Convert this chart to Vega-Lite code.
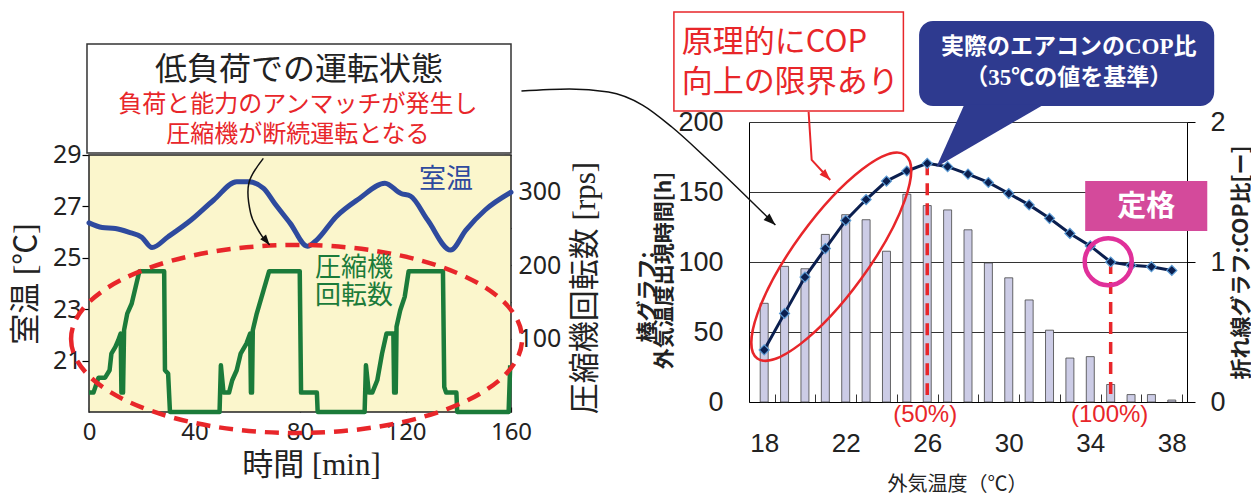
{
  "$schema": "https://vega.github.io/schema/vega-lite/v6.json",
  "background": "#ffffff",
  "padding": {"left": 10, "top": 11, "right": 0, "bottom": 0},
  "autosize": {"type": "pad"},
  "bounds": "flush",
  "spacing": 238,
  "config": {
    "view": {"stroke": null},
    "axis": {"labelFlush": false, "labelOverlap": false, "domainColor": "#000", "tickColor": "#000", "labelColor": "#222", "titleColor": "#222", "titleFontWeight": "normal", "grid": false}
  },
  "datasets": {
    "room": [
      {"t": 0, "temp": 26.36}, {"t": 5, "temp": 26.18}, {"t": 10, "temp": 26.14}, {"t": 15, "temp": 26.0},
      {"t": 20, "temp": 25.8}, {"t": 23.9, "temp": 25.4}, {"t": 30, "temp": 25.82}, {"t": 38.7, "temp": 26.47},
      {"t": 47.3, "temp": 27.25}, {"t": 56, "temp": 27.96}, {"t": 60.4, "temp": 27.96}, {"t": 66.2, "temp": 27.7},
      {"t": 70.5, "temp": 27.1}, {"t": 76.3, "temp": 26.34}, {"t": 82.8, "temp": 25.45}, {"t": 86.4, "temp": 25.7},
      {"t": 93.7, "temp": 26.6}, {"t": 102.4, "temp": 27.3}, {"t": 112.2, "temp": 27.9}, {"t": 118.3, "temp": 27.5},
      {"t": 121.9, "temp": 27.4}, {"t": 128.4, "temp": 26.47}, {"t": 137.1, "temp": 25.3}, {"t": 142.9, "temp": 26.08},
      {"t": 150.2, "temp": 26.86}, {"t": 160, "temp": 27.55}
    ],
    "comp": [
      {"t": 0, "rps": 26.4}, {"t": 1.7, "rps": 26.4}, {"t": 3.6, "rps": 46.8}, {"t": 6.1, "rps": 46.8},
      {"t": 7.8, "rps": 56.8}, {"t": 8.5, "rps": 79.5}, {"t": 10.0, "rps": 88.6}, {"t": 11.1, "rps": 97.7},
      {"t": 12.0, "rps": 106.8}, {"t": 12.3, "rps": 26.4}, {"t": 12.9, "rps": 26.4}, {"t": 13.3, "rps": 111.4},
      {"t": 14.5, "rps": 134}, {"t": 16.2, "rps": 147.7}, {"t": 17.7, "rps": 170.5}, {"t": 19.1, "rps": 191.8},
      {"t": 28.5, "rps": 191.8}, {"t": 28.8, "rps": 56.8}, {"t": 30.0, "rps": 52.3}, {"t": 30.7, "rps": 0},
      {"t": 49.5, "rps": 0}, {"t": 50.0, "rps": 63.6}, {"t": 51.0, "rps": 26.4}, {"t": 53.1, "rps": 26.4},
      {"t": 54.3, "rps": 43.2}, {"t": 56.0, "rps": 56.8}, {"t": 57.5, "rps": 79.5}, {"t": 59.7, "rps": 93.2},
      {"t": 61.1, "rps": 106.8}, {"t": 61.4, "rps": 26.4}, {"t": 61.8, "rps": 26.4}, {"t": 62.1, "rps": 111.4},
      {"t": 63.6, "rps": 134}, {"t": 66.2, "rps": 166}, {"t": 68.3, "rps": 191.8}, {"t": 79.9, "rps": 191.8},
      {"t": 80.4, "rps": 26.4}, {"t": 86.4, "rps": 26.4}, {"t": 86.7, "rps": 0}, {"t": 104.5, "rps": 0},
      {"t": 105.0, "rps": 63.6}, {"t": 106.1, "rps": 26.4}, {"t": 107.4, "rps": 26.4}, {"t": 109.3, "rps": 43.2},
      {"t": 111.1, "rps": 79.5}, {"t": 112.8, "rps": 106.8}, {"t": 115.4, "rps": 106.8}, {"t": 115.7, "rps": 26.4},
      {"t": 116.3, "rps": 26.4}, {"t": 116.6, "rps": 116}, {"t": 118.0, "rps": 138.6}, {"t": 119.7, "rps": 156.8},
      {"t": 121.2, "rps": 191.8}, {"t": 134.2, "rps": 191.8}, {"t": 134.7, "rps": 34}, {"t": 135.4, "rps": 26.4},
      {"t": 139.3, "rps": 26.4}, {"t": 139.6, "rps": 0}, {"t": 159.1, "rps": 0}, {"t": 159.7, "rps": 63.6}
    ],
    "outdoor": [
      {"x": 18, "h": 70.5, "cop": 0.372}, {"x": 19, "h": 96.9, "cop": 0.633}, {"x": 20, "h": 95.2, "cop": 0.892},
      {"x": 21, "h": 119.7, "cop": 1.096}, {"x": 22, "h": 133.8, "cop": 1.297}, {"x": 23, "h": 130.2, "cop": 1.446},
      {"x": 24, "h": 107.7, "cop": 1.578}, {"x": 25, "h": 148.4, "cop": 1.65}, {"x": 26, "h": 140.3, "cop": 1.705},
      {"x": 27, "h": 137.2, "cop": 1.681}, {"x": 28, "h": 123.0, "cop": 1.628}, {"x": 29, "h": 99.3, "cop": 1.568},
      {"x": 30, "h": 88.7, "cop": 1.489}, {"x": 31, "h": 72.9, "cop": 1.408}, {"x": 32, "h": 51.3, "cop": 1.312},
      {"x": 33, "h": 31.4, "cop": 1.204}, {"x": 34, "h": 32.4, "cop": 1.115}, {"x": 35, "h": 12.5, "cop": 1.0},
      {"x": 36, "h": 5.3, "cop": 0.976}, {"x": 37, "h": 5.3, "cop": 0.966}, {"x": 38, "h": 1.4, "cop": 0.94}
    ],
    "arrowL": [
      {"i": 0, "t": 66.1, "temp": 28.87}, {"i": 1, "t": 60.6, "temp": 27.9}, {"i": 2, "t": 61.3, "temp": 26.73}, {"i": 3, "t": 64.9, "temp": 25.95}, {"i": 4, "t": 68.5, "temp": 25.5}
    ],
    "arrowR": [
      {"x": 6.09, "v": 2.221}, {"x": 8.44, "v": 2.236}, {"x": 10.36, "v": 2.214}, {"x": 12.03, "v": 2.121},
      {"x": 13.47, "v": 1.964}, {"x": 15.15, "v": 1.743}, {"x": 18.55, "v": 1.264}
    ],
    "conn": [
      {"x": 20.18, "v": 2.071}, {"x": 20.33, "v": 1.729}, {"x": 21.24, "v": 1.586}
    ]
  },
  "hconcat": [
    {
      "width": 422,
      "height": 290,
      "resolve": {"scale": {"y": "independent"}},
      "layer": [
        {
          "data": {"values": [{}]},
          "mark": {"type": "rect", "fill": "#FBF6CC", "stroke": "#222", "strokeWidth": 1.5},
          "encoding": {
            "x": {"datum": 0, "type": "quantitative", "scale": {"domain": [0, 160], "nice": false, "zero": false},
              "axis": {"orient": "bottom", "values": [0, 40, 80, 120, 160], "domain": false, "tickSize": -5, "tickWidth": 1.2, "labelBaseline": "middle", "labelPadding": 25, "labelFont": "Noto Sans", "labelFontSize": 24, "title": "時間 [min]", "titleFont": "Liberation Serif, Noto Sans CJK JP", "titleFontSize": 31, "titleX": 222, "titleY": 53, "titleAlign": "center", "titleBaseline": "middle"}},
            "x2": {"datum": 160},
            "y": {"datum": 19, "type": "quantitative", "scale": {"domain": [19, 30.284], "nice": false, "zero": false},
              "axis": {"orient": "left", "values": [21, 23, 25, 27, 29], "domain": false, "tickSize": 7, "tickWidth": 1.2, "labelPadding": 1, "labelFont": "Noto Sans", "labelFontSize": 25, "title": "室温 [℃]", "titleFont": "Liberation Serif, Noto Sans CJK JP", "titleFontSize": 31, "titleAngle": 270, "titleX": -63, "titleY": 161.5, "titleAlign": "center", "titleBaseline": "middle"}},
            "y2": {"datum": 29}
          }
        },
        {
          "data": {"name": "comp"},
          "mark": {"type": "line", "color": "#1B7B3A", "strokeWidth": 4.5, "strokeJoin": "round"},
          "encoding": {
            "x": {"field": "t", "type": "quantitative"},
            "y": {"field": "rps", "type": "quantitative", "scale": {"domain": [0, 394.9], "nice": false, "zero": false},
              "axis": {"orient": "right", "values": [50, 100, 150, 200, 250, 300, 350], "labelExpr": "datum.value % 100 == 0 ? datum.label : ''", "domain": false, "tickSize": -7, "tickWidth": 1.2, "labelPadding": 14, "labelFont": "Noto Sans", "labelFontSize": 25, "title": "圧縮機回転数 [rps]", "titleFont": "Liberation Serif, Noto Sans CJK JP", "titleFontSize": 31, "titleAngle": 270, "titleX": 74, "titleY": 165.5, "titleAlign": "center", "titleBaseline": "middle"}}
          }
        },
        {
          "data": {"name": "room"},
          "mark": {"type": "line", "color": "#2E4A9E", "strokeWidth": 5, "interpolate": "monotone", "strokeCap": "round", "strokeJoin": "round"},
          "encoding": {
            "x": {"field": "t", "type": "quantitative"},
            "y": {"field": "temp", "type": "quantitative", "scale": {"domain": [19, 30.284], "nice": false, "zero": false}, "axis": null}
          }
        },
        {
          "data": {"values": [{}]},
          "mark": {"type": "point", "shape": "M-1,0A1,0.417,0,1,0,1,0A1,0.417,0,1,0,-1,0Z", "size": 203401, "filled": false, "color": "#E8262A", "strokeWidth": 4.5, "strokeDash": [14, 9], "opacity": 1},
          "encoding": {"x": {"datum": 78.7}, "y": {"datum": 21.84, "scale": {"domain": [19, 30.284], "nice": false, "zero": false}, "axis": null}}
        },
        {
          "data": {"values": [{}]},
          "mark": {"type": "text", "text": "室温", "font": "Noto Sans CJK JP", "fontSize": 27, "color": "#2E4A9E", "baseline": "middle", "align": "center"},
          "encoding": {"x": {"datum": 135.4}, "y": {"datum": 28.03, "scale": {"domain": [19, 30.284], "nice": false, "zero": false}, "axis": null}}
        },
        {
          "data": {"values": [{}]},
          "mark": {"type": "text", "text": ["圧縮機", "回転数"], "lineHeight": 28, "font": "Noto Sans CJK JP", "fontSize": 26, "color": "#1B7B3A", "baseline": "middle", "align": "center"},
          "encoding": {"x": {"datum": 100.5}, "y": {"datum": 24.6, "scale": {"domain": [19, 30.284], "nice": false, "zero": false}, "axis": null}}
        },
        {
          "data": {"values": [{}]},
          "mark": {"type": "rect", "fill": "#ffffff", "stroke": "#333", "strokeWidth": 1.5},
          "encoding": {"x": {"datum": -0.76}, "x2": {"datum": 160}, "y": {"datum": 33.32, "scale": {"domain": [19, 30.284], "nice": false, "zero": false}, "axis": null}, "y2": {"datum": 29.08}}
        },
        {
          "data": {"values": [{}]},
          "mark": {"type": "text", "text": "低負荷での運転状態", "font": "Noto Sans CJK JP", "fontSize": 32, "color": "#222", "baseline": "middle", "align": "center"},
          "encoding": {"x": {"datum": 79.6}, "y": {"datum": 32.31, "scale": {"domain": [19, 30.284], "nice": false, "zero": false}, "axis": null}}
        },
        {
          "data": {"values": [{}]},
          "mark": {"type": "text", "text": ["負荷と能力のアンマッチが発生し", "圧縮機が断続運転となる"], "lineHeight": 30, "font": "Noto Sans CJK JP", "fontSize": 24, "color": "#E8262A", "baseline": "middle", "align": "center"},
          "encoding": {"x": {"datum": 79.2}, "y": {"datum": 30.95, "scale": {"domain": [19, 30.284], "nice": false, "zero": false}, "axis": null}}
        },
        {
          "data": {"name": "arrowL"},
          "mark": {"type": "line", "color": "#111", "strokeWidth": 1.5, "interpolate": "cardinal"},
          "encoding": {"x": {"field": "t", "type": "quantitative"}, "y": {"field": "temp", "type": "quantitative", "scale": {"domain": [19, 30.284], "nice": false, "zero": false}, "axis": null}, "order": {"field": "i", "type": "quantitative"}}
        },
        {
          "data": {"values": [{}]},
          "mark": {"type": "point", "shape": "M0,0L-0.5,-1.4L0.5,-1.4Z", "size": 220, "angle": 321, "filled": true, "color": "#111", "opacity": 1},
          "encoding": {"x": {"datum": 68.5}, "y": {"datum": 25.5, "scale": {"domain": [19, 30.284], "nice": false, "zero": false}, "axis": null}}
        }
      ]
    },
    {
      "width": 438,
      "height": 280,
      "resolve": {"scale": {"y": "independent"}},
      "layer": [
        {
          "data": {"name": "outdoor"},
          "mark": {"type": "bar", "size": 8, "fill": "#CCCCE6", "stroke": "#444", "strokeWidth": 0.8},
          "encoding": {
            "x": {"field": "x", "type": "quantitative", "scale": {"domain": [17.5, 38.5], "nice": false, "zero": false},
              "axis": {"orient": "bottom", "values": [18, 19, 20, 21, 22, 23, 24, 25, 26, 27, 28, 29, 30, 31, 32, 33, 34, 35, 36, 37, 38], "tickOffset": 10.43, "labelOffset": -10.43, "labelExpr": "datum.value % 4 == 2 ? datum.label : ''", "tickSize": -8, "tickColor": "#333", "labelPadding": 49, "labelBaseline": "middle", "labelFont": "Liberation Sans", "labelFontSize": 26, "title": "外気温度（℃）", "titleFont": "Noto Sans CJK JP", "titleFontSize": 20, "titleX": 208, "titleY": 82, "titleAlign": "center", "titleBaseline": "middle"}},
            "y": {"field": "h", "type": "quantitative", "scale": {"domain": [0, 200], "nice": false, "zero": true},
              "axis": {"orient": "left", "values": [0, 50, 100, 150, 200], "grid": true, "gridColor": "#333", "gridWidth": 1, "ticks": false, "labelPadding": 26, "labelFont": "Liberation Sans", "labelFontSize": 27, "title": "外気温度出現時間[h]", "titleFont": "Noto Sans CJK JP", "titleFontWeight": "bold", "titleFontSize": 21, "titleAngle": 270, "titleX": -85, "titleY": 148, "titleAlign": "center", "titleBaseline": "middle"}}
          }
        },
        {
          "data": {"values": [{}]},
          "mark": {"type": "rule", "color": "#E8262A", "strokeWidth": 3.5, "strokeDash": [12, 8]},
          "encoding": {"x": {"datum": 26}, "y": {"datum": 170.5, "scale": {"domain": [0, 200], "nice": false, "zero": false}, "axis": null}, "y2": {"datum": 5}}
        },
        {
          "data": {"values": [{}]},
          "mark": {"type": "rule", "color": "#E8262A", "strokeWidth": 3.5, "strokeDash": [12, 8]},
          "encoding": {"x": {"datum": 35}, "y": {"datum": 100, "scale": {"domain": [0, 200], "nice": false, "zero": false}, "axis": null}, "y2": {"datum": 5}}
        },
        {
          "data": {"values": [{}]},
          "mark": {"type": "text", "text": "(50%)", "font": "Liberation Sans", "fontSize": 24, "color": "#E8262A", "baseline": "middle", "align": "center"},
          "encoding": {"x": {"datum": 25.9}, "y": {"datum": -9.3, "scale": {"domain": [0, 200], "nice": false, "zero": false}, "axis": null}}
        },
        {
          "data": {"values": [{}]},
          "mark": {"type": "text", "text": "(100%)", "font": "Liberation Sans", "fontSize": 24, "color": "#E8262A", "baseline": "middle", "align": "center"},
          "encoding": {"x": {"datum": 34.95}, "y": {"datum": -9.3, "scale": {"domain": [0, 200], "nice": false, "zero": false}, "axis": null}}
        },
        {
          "data": {"name": "outdoor"},
          "mark": {"type": "line", "color": "#0B1F4F", "strokeWidth": 3},
          "encoding": {
            "x": {"field": "x", "type": "quantitative"},
            "y": {"field": "cop", "type": "quantitative", "scale": {"domain": [0, 2], "nice": false, "zero": false},
              "axis": {"orient": "right", "values": [0, 1, 2], "format": ".0f", "tickSize": 8, "labelPadding": 15, "labelFont": "Liberation Sans", "labelFontSize": 27, "title": "折れ線グラフ:COP比[ー]", "titleFont": "Noto Sans CJK JP", "titleFontWeight": "bold", "titleFontSize": 21, "titleAngle": 270, "titleX": 54, "titleY": 140, "titleAlign": "center", "titleBaseline": "middle"}}
          }
        },
        {
          "data": {"name": "outdoor"},
          "mark": {"type": "point", "shape": "diamond", "size": 100, "filled": true, "fill": "#0B1F4F", "stroke": "#5B9BD5", "strokeWidth": 1.2, "opacity": 1},
          "encoding": {"x": {"field": "x", "type": "quantitative"}, "y": {"field": "cop", "type": "quantitative", "scale": {"domain": [0, 2], "nice": false, "zero": false}, "axis": null}}
        },
        {
          "data": {"values": [{}]},
          "mark": {"type": "point", "shape": "M-1,0A1,0.296,0,1,0,1,0A1,0.296,0,1,0,-1,0Z", "size": 63302, "angle": 306, "filled": false, "color": "#E8262A", "strokeWidth": 2.5, "opacity": 1},
          "encoding": {"x": {"datum": 21.29}, "y": {"datum": 1.038, "scale": {"domain": [0, 2], "nice": false, "zero": false}, "axis": null}}
        },
        {
          "data": {"values": [{}]},
          "mark": {"type": "point", "shape": "circle", "size": 2209, "filled": false, "color": "#E0309A", "strokeWidth": 4.5, "opacity": 1},
          "encoding": {"x": {"datum": 34.88}, "y": {"datum": 1.002, "scale": {"domain": [0, 2], "nice": false, "zero": false}, "axis": null}}
        },
        {
          "data": {"values": [{}]},
          "mark": {"type": "rect", "fill": "#D44A9B"},
          "encoding": {"x": {"datum": 33.75}, "x2": {"datum": 39.74}, "y": {"datum": 1.579, "scale": {"domain": [0, 2], "nice": false, "zero": false}, "axis": null}, "y2": {"datum": 1.221}}
        },
        {
          "data": {"values": [{}]},
          "mark": {"type": "text", "text": "定格", "font": "Noto Sans CJK JP", "fontWeight": "bold", "fontSize": 29, "color": "#ffffff", "baseline": "middle", "align": "center"},
          "encoding": {"x": {"datum": 36.75}, "y": {"datum": 1.39, "scale": {"domain": [0, 2], "nice": false, "zero": false}, "axis": null}}
        },
        {
          "data": {"values": [{}]},
          "mark": {"type": "rect", "fill": "#2E3A8F", "cornerRadius": 14},
          "encoding": {"x": {"datum": 25.6}, "x2": {"datum": 40.08}, "y": {"datum": 2.721, "scale": {"domain": [0, 2], "nice": false, "zero": false}, "axis": null}, "y2": {"datum": 2.114}}
        },
        {
          "data": {"values": [{}]},
          "mark": {"type": "point", "shape": "M-0.481,-0.6L1,-0.6L-1,0.565Z", "size": 11664, "filled": true, "color": "#2E3A8F", "opacity": 1},
          "encoding": {"x": {"datum": 29.1}, "y": {"datum": 1.896, "scale": {"domain": [0, 2], "nice": false, "zero": false}, "axis": null}}
        },
        {
          "data": {"values": [{}]},
          "mark": {"type": "text", "text": ["実際のエアコンのCOP比", "（35℃の値を基準）"], "lineHeight": 31, "font": "Liberation Serif, Noto Sans CJK JP", "fontWeight": "bold", "fontSize": 23, "color": "#ffffff", "baseline": "middle", "align": "center"},
          "encoding": {"x": {"datum": 32.94}, "y": {"datum": 2.536, "scale": {"domain": [0, 2], "nice": false, "zero": false}, "axis": null}}
        },
        {
          "data": {"values": [{}]},
          "mark": {"type": "rect", "fill": "#ffffff", "stroke": "#E8262A", "strokeWidth": 1.5},
          "encoding": {"x": {"datum": 13.57}, "x2": {"datum": 24.83}, "y": {"datum": 2.786, "scale": {"domain": [0, 2], "nice": false, "zero": false}, "axis": null}, "y2": {"datum": 2.079}}
        },
        {
          "data": {"values": [{}]},
          "mark": {"type": "text", "text": ["原理的にCOP", "向上の限界あり"], "lineHeight": 40, "font": "Noto Sans CJK JP", "fontSize": 31, "color": "#E8262A", "baseline": "middle", "align": "left"},
          "encoding": {"x": {"datum": 13.95}, "y": {"datum": 2.564, "scale": {"domain": [0, 2], "nice": false, "zero": false}, "axis": null}}
        },
        {
          "data": {"values": [{}]},
          "mark": {"type": "text", "text": "棒グラフ:", "angle": 270, "font": "Noto Sans CJK JP", "fontWeight": "bold", "fontSize": 21, "color": "#222", "baseline": "middle", "align": "center"},
          "encoding": {"x": {"datum": 12.32}, "y": {"datum": 0.75, "scale": {"domain": [0, 2], "nice": false, "zero": false}, "axis": null}}
        },
        {
          "data": {"name": "conn"},
          "mark": {"type": "line", "color": "#E8262A", "strokeWidth": 2},
          "encoding": {"x": {"field": "x", "type": "quantitative"}, "y": {"field": "v", "type": "quantitative", "scale": {"domain": [0, 2], "nice": false, "zero": false}, "axis": null}}
        },
        {
          "data": {"values": [{}]},
          "mark": {"type": "point", "shape": "M0,0L-0.5,-1.4L0.5,-1.4Z", "size": 256, "angle": 316, "filled": true, "color": "#E8262A", "opacity": 1},
          "encoding": {"x": {"datum": 21.24}, "y": {"datum": 1.586, "scale": {"domain": [0, 2], "nice": false, "zero": false}, "axis": null}}
        },
        {
          "data": {"name": "arrowR"},
          "mark": {"type": "line", "color": "#111", "strokeWidth": 1.5, "interpolate": "monotone"},
          "encoding": {"x": {"field": "x", "type": "quantitative"}, "y": {"field": "v", "type": "quantitative", "scale": {"domain": [0, 2], "nice": false, "zero": false}, "axis": null}}
        },
        {
          "data": {"values": [{}]},
          "mark": {"type": "point", "shape": "M0,0L-0.5,-1.4L0.5,-1.4Z", "size": 300, "angle": 313, "filled": true, "color": "#111", "opacity": 1},
          "encoding": {"x": {"datum": 18.55}, "y": {"datum": 1.264, "scale": {"domain": [0, 2], "nice": false, "zero": false}, "axis": null}}
        }
      ]
    }
  ]
}
